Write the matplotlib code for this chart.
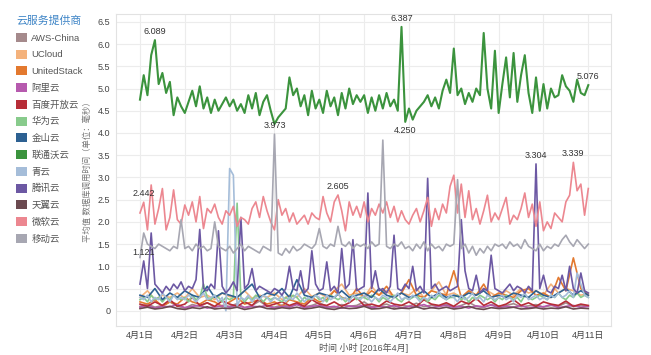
import numpy as np
import matplotlib
matplotlib.use("Agg")
import matplotlib.pyplot as plt
from matplotlib.patches import Patch

plt.rcParams['font.family'] = ['Liberation Sans', 'Noto Sans CJK SC', 'DejaVu Sans']

# providers, in legend order
providers = ["AWS-China", "UCloud", "UnitedStack", "阿里云", "百度开放云", "华为云", "金山云",
             "联通沃云", "青云", "腾讯云", "天翼云", "微软云", "移动云"]
colors = ["#a58a8c", "#f4b27c", "#e3792f", "#b65aae", "#b72d38", "#88cb8c", "#2d6192",
          "#3b933d", "#a5bdd9", "#6c58a3", "#6b4a50", "#ec8790", "#a7a7b2"]

day_labels = ["4月1日", "4月2日", "4月3日", "4月4日", "4月5日", "4月6日",
              "4月7日", "4月8日", "4月9日", "4月10日", "4月11日"]

# every series spans 4/1 00:00 .. 4/11 00:00 (240 h)
aws = [0.1, 0.15, 0.08, 0.12, 0.2, 0.1, 0.06, 0.14, 0.1, 0.18, 0.08, 0.12, 0.1, 0.16, 0.07, 0.12,
       0.22, 0.1, 0.08, 0.13, 0.1, 0.15, 0.09, 0.12, 0.18, 0.1, 0.07, 0.14, 0.1, 0.12, 0.2, 0.09,
       0.11, 0.15, 0.08, 0.12, 0.1, 0.17, 0.09, 0.13, 0.1, 0.15, 0.08, 0.12, 0.19, 0.1, 0.07, 0.14,
       0.1, 0.12, 0.16, 0.09, 0.11, 0.14, 0.08, 0.12, 0.1, 0.18, 0.09, 0.12, 0.1]
ucloud = [0.3, 0.45, 0.25, 0.35, 0.3, 0.4, 0.28, 0.5, 0.3, 0.35, 0.25, 0.4, 0.32, 0.3, 0.45, 0.28,
          0.35, 0.3, 0.4, 0.25, 0.35, 0.3, 0.5, 0.32, 0.4, 0.3, 0.45, 0.6, 0.35, 0.4, 0.3, 0.55,
          0.35, 0.45, 0.3, 0.4, 0.35, 0.5, 0.3, 0.45, 0.65, 0.35, 0.4, 0.3, 0.45, 0.35, 0.5, 0.4,
          0.3, 0.45, 0.35, 0.5, 0.4, 0.45, 0.35, 0.6, 0.4, 0.5, 0.45, 0.35, 0.4]
unitedstack = [0.2, 0.15, 0.25, 0.1, 0.2, 0.15, 0.3, 0.2, 0.15, 0.25, 0.2, 0.1, 0.2, 0.3, 0.15, 0.2,
               0.25, 0.15, 0.2, 0.1, 0.25, 0.2, 0.15, 0.3, 0.2, 0.25, 0.45, 0.3, 0.25, 0.5, 0.3, 0.45,
               0.35, 0.55, 0.3, 0.4, 0.7, 0.35, 0.3, 0.45, 0.4, 0.35, 0.9, 0.3, 0.45, 0.35, 0.6, 0.3,
               0.4, 0.35, 0.3, 0.45, 0.5, 0.35, 0.4, 0.3, 0.75, 0.45, 1.19, 0.5, 0.35]
aliyun = [0.08, 0.12, 0.06, 0.1, 0.09, 0.14, 0.07, 0.1, 0.12, 0.06, 0.09, 0.11, 0.08, 0.13, 0.07, 0.1,
          0.09, 0.12, 0.06, 0.1, 0.08, 0.14, 0.07, 0.1, 0.12, 0.08, 0.1, 0.06, 0.11, 0.09, 0.13, 0.07,
          0.1, 0.08, 0.12, 0.06, 0.1, 0.09, 0.14, 0.07, 0.1, 0.12, 0.08, 0.1, 0.06, 0.11, 0.09, 0.13,
          0.07, 0.1, 0.08, 0.12, 0.06, 0.1, 0.09, 0.14, 0.07, 0.1, 0.12, 0.08, 0.1]
baidu = [0.15, 0.1, 0.2, 0.12, 0.25, 0.1, 0.15, 0.3, 0.12, 0.18, 0.1, 0.22, 0.15, 0.1, 0.2, 0.12,
         0.28, 0.1, 0.15, 0.2, 0.12, 0.18, 0.1, 0.25, 0.15, 0.12, 0.2, 0.1, 0.18, 0.3, 0.12, 0.15,
         0.1, 0.22, 0.15, 0.12, 0.2, 0.1, 0.25, 0.15, 0.12, 0.18, 0.1, 0.22, 0.15, 0.28, 0.12, 0.2,
         0.1, 0.15, 0.25, 0.12, 0.18, 0.1, 0.2, 0.15, 0.12, 0.22, 0.1, 0.15, 0.12]
huawei = [0.25, 0.3, 0.2, 0.35, 0.25, 0.3, 0.2, 0.3, 0.25, 0.35, 0.3, 0.25,
          0.3, 0.2, 0.35, 0.25, 0.3, 0.6, 0.3, 0.25, 0.35, 0.3, 0.2, 0.3,
          0.25, 0.3, 2.42, 0.3, 0.2, 0.3, 0.25, 0.35, 0.3, 0.2, 0.3, 0.25,
          0.3, 0.25, 0.2, 0.3, 0.25, 0.35, 0.3, 0.2, 0.3, 0.25, 0.3, 0.35,
          0.25, 0.3, 0.2, 0.35, 0.3, 0.25, 0.3, 0.2, 0.3, 0.35, 0.25, 0.3,
          0.3, 0.25, 0.35, 0.3, 0.2, 0.3, 0.25, 0.3, 0.35, 0.25, 0.2, 0.3,
          0.25, 0.3, 0.35, 0.25, 0.3, 0.2, 0.3, 0.25, 0.35, 0.3, 0.25, 0.3,
          0.3, 0.35, 0.25, 0.3, 0.2, 0.3, 0.25, 0.35, 0.3, 0.25, 0.3, 0.2,
          0.3, 0.25, 0.35, 0.3, 0.25, 0.3, 0.2, 0.35, 0.3, 0.25, 0.3, 0.35,
          0.3, 0.25, 0.35, 0.3, 0.4, 0.3, 0.25, 0.35, 0.3, 0.4, 0.3, 0.35, 0.3]
kingsoft = [0.35, 0.3, 0.5, 0.25, 0.4, 0.3, 0.45, 0.35, 0.3, 0.55, 0.3, 0.4, 0.35, 0.3, 0.45, 0.6,
            0.3, 0.4, 0.35, 0.5, 0.3, 0.7, 0.35, 0.3, 0.4, 0.35, 0.3, 0.45, 0.3, 0.35, 0.4, 0.3,
            0.5, 0.35, 0.3, 0.4, 0.3, 0.35, 0.45, 0.3, 0.4, 0.3, 0.35, 0.3, 0.4, 0.35, 0.45, 0.3,
            0.35, 0.3, 0.4, 0.35, 0.3, 0.45, 0.35, 0.3, 0.4, 0.5, 0.35, 0.45, 0.35]
unicom = [4.75, 5.3, 4.85, 5.75, 6.089, 5.1, 5.35, 4.9, 5.15, 4.4, 4.8, 4.6,
          4.45, 4.7, 4.95, 4.6, 5.05, 4.55, 4.8, 4.45, 4.75, 4.5, 4.65, 4.8,
          4.6, 4.75, 4.5, 4.65, 4.45, 4.85, 4.55, 4.9, 4.4, 4.7, 4.85, 4.5,
          4.2, 4.35, 4.45, 4.55, 5.25, 4.85, 5.0, 4.6, 4.85, 4.4, 4.95, 4.55,
          4.75, 4.45, 4.95, 4.6, 4.8, 4.4, 4.9, 4.55, 5.0, 4.65, 4.85, 4.7,
          4.85, 4.45, 4.8, 4.5, 4.85, 4.55, 4.9, 4.6, 4.75, 4.5, 6.387, 4.25,
          4.55, 4.3, 4.5, 4.6, 4.7, 4.85, 4.6, 4.8, 4.55, 4.95, 5.2, 4.9,
          5.9, 4.85, 5.0, 4.65, 4.9, 4.7, 5.0, 4.85, 6.25, 5.0, 4.55, 5.85,
          4.45, 5.1, 5.7, 4.8, 5.8, 4.7, 5.3, 5.75, 4.9, 4.45, 5.25, 4.5,
          5.1, 4.55, 5.0, 4.8, 4.85, 5.3, 5.05, 4.95, 4.7, 5.2, 4.9, 4.85, 5.076]
qingcloud = [0.3, 0.25, 0.35, 0.2, 0.3, 0.25, 0.4, 0.3, 0.2, 0.35, 0.25, 0.3,
             0.25, 0.35, 0.3, 0.2, 0.3, 0.4, 0.25, 0.3, 0.35, 0.2, 0.3, 0.0,
             3.2, 3.05, 0.1, 0.3, 0.25, 0.35, 0.2, 0.3, 0.25, 0.35, 0.3, 0.2,
             0.3, 0.25, 0.35, 0.2, 0.3, 0.25, 0.4, 0.3, 0.2, 0.3, 0.25, 0.35,
             0.3, 0.2, 0.35, 0.25, 0.3, 0.4, 0.25, 0.3, 0.2, 0.35, 0.3, 0.25,
             0.35, 0.3, 0.2, 0.3, 0.25, 0.35, 0.3, 0.2, 0.3, 0.4, 0.25, 0.3,
             0.25, 0.35, 0.3, 0.2, 0.3, 0.25, 0.35, 0.3, 0.45, 0.3, 0.25, 0.35,
             0.3, 0.2, 0.35, 0.25, 0.3, 0.4, 0.25, 0.3, 0.2, 0.35, 0.3, 0.25,
             0.3, 0.35, 0.25, 0.3, 0.2, 0.35, 0.3, 0.4, 0.25, 0.3, 0.35, 0.25,
             0.3, 0.25, 0.35, 0.3, 0.4, 0.3, 0.35, 0.45, 0.3, 0.85, 0.6, 0.35, 0.3]
tencent = [0.6, 1.121, 0.5, 1.75, 0.6, 0.5, 0.4, 0.55, 0.45, 0.6, 0.5, 0.65,
           0.45, 0.55, 0.5, 0.7, 1.83, 0.5, 0.45, 0.6, 0.5, 1.8, 0.55, 0.4,
           0.5, 0.65, 0.45, 2.1, 0.5, 0.6, 0.95, 0.45, 0.55, 0.5, 0.45, 0.4,
           0.5, 0.45, 0.35, 0.5, 1.0, 0.5, 0.45, 0.9, 0.4, 0.5, 1.35, 0.6,
           0.45, 0.5, 1.1, 0.45, 0.55, 0.4, 1.4, 0.5, 0.6, 1.6, 0.45, 0.5,
           0.55, 2.65, 0.5, 0.9, 0.45, 0.5, 0.4, 0.55, 1.7, 0.5, 0.45, 0.6,
           0.5, 1.0, 0.45, 0.55, 0.4, 2.98, 0.5, 0.6, 0.45, 0.5, 0.55, 0.45,
           0.5, 0.55, 2.05, 0.9, 0.5, 0.45, 0.8, 0.4, 0.5, 0.45, 1.25, 0.5,
           0.45, 0.4, 0.5, 0.6, 0.45, 0.55, 0.5, 0.4, 0.55, 0.45, 3.304, 0.5,
           0.8, 0.45, 0.4, 0.55, 0.5, 0.8, 0.45, 1.0, 0.5, 0.4, 0.85, 0.45, 0.4]
tianyi = [0.05, 0.08, 0.04, 0.06, 0.1, 0.05, 0.03, 0.07, 0.05, 0.09, 0.04, 0.06, 0.05, 0.08, 0.03, 0.06,
          0.1, 0.05, 0.04, 0.07, 0.05, 0.08, 0.04, 0.06, 0.09, 0.05, 0.03, 0.07, 0.05, 0.06, 0.1, 0.04,
          0.05, 0.08, 0.04, 0.06, 0.05, 0.09, 0.04, 0.07, 0.05, 0.08, 0.04, 0.06, 0.1, 0.05, 0.03, 0.07,
          0.05, 0.06, 0.08, 0.04, 0.05, 0.07, 0.04, 0.06, 0.05, 0.09, 0.04, 0.06, 0.05]
azure = [2.2, 2.442, 1.82, 2.83, 1.95, 2.3, 2.75, 1.82, 2.1, 2.72, 2.05, 1.95,
         2.38, 2.15, 2.45, 2.0, 2.57, 1.85, 2.3, 2.2, 2.4, 2.1, 1.95, 2.25,
         2.15, 2.35, 1.9, 2.1, 2.05, 1.95, 2.3, 2.45, 2.1, 2.57, 2.25, 2.0,
         1.82, 2.5, 2.15, 2.3, 2.0, 2.2, 1.95, 2.05, 2.15, 1.95, 2.2, 2.1,
         2.05, 2.57, 2.2, 2.0, 2.45, 2.605, 2.25, 1.8, 2.45, 2.15, 2.35, 2.1,
         2.45, 2.0, 2.3, 2.15, 2.4, 2.2, 2.45, 2.1, 2.35, 2.0, 2.25, 2.05,
         1.95, 2.15, 2.3, 2.0, 2.25, 2.55, 1.9, 2.3, 2.05, 2.4, 2.2, 2.8,
         3.05, 2.2, 2.85, 2.1, 2.7, 2.05, 2.3, 1.95, 2.25, 2.6, 2.0, 2.2,
         2.05, 2.3, 2.55, 1.95, 2.15, 2.05, 2.3, 2.65, 2.1, 2.4, 1.9, 2.45,
         1.8, 2.0, 1.85, 2.2, 2.1, 2.0, 2.45, 2.6, 3.339, 2.7, 2.85, 2.15, 2.75]
mobile = [1.2, 1.75, 1.5, 1.45, 1.4, 1.5, 1.45, 1.4, 1.35, 1.45, 1.4, 2.05,
          1.4, 1.45, 1.35, 1.5, 1.4, 1.45, 1.35, 1.4, 2.0, 1.45, 1.4, 1.35,
          1.45, 1.3, 1.4, 1.5, 1.35, 1.45, 1.4, 1.35, 1.3, 1.45, 1.4, 1.35,
          3.973, 1.3, 1.25, 1.4, 1.3, 1.45, 1.35, 1.4, 1.5, 1.45, 1.4, 1.5,
          1.85, 1.45, 1.4, 1.5, 1.45, 1.9, 1.5, 1.45, 1.55, 1.4, 1.5, 1.45,
          1.5, 1.4, 1.55, 1.45, 1.5, 3.84, 1.45, 1.4, 1.5, 1.45, 1.55, 1.4,
          1.45, 1.35, 1.5, 1.4, 1.55, 1.35, 1.5, 1.4, 1.45, 1.35, 1.5, 1.45,
          1.5, 2.95, 1.4, 1.5, 1.3, 1.45, 1.25, 1.4, 1.3, 1.45, 1.35, 1.5,
          1.45, 1.5, 1.4, 1.55, 1.45, 1.5, 1.4, 1.6, 1.45, 1.4, 1.35, 1.5,
          1.35, 1.45, 1.4, 1.5, 1.45, 1.6, 1.7, 1.55, 1.45, 1.6, 1.5, 1.4, 1.5]

series = [aws, ucloud, unitedstack, aliyun, baidu, huawei, kingsoft,
          unicom, qingcloud, tencent, tianyi, azure, mobile]

# (series index, point index, text above/below)
labels = [(7, 4, 'above'), (7, 70, 'above'), (7, 71, 'below'), (7, 120, 'above'),
          (12, 36, 'above'), (9, 1, 'above'), (9, 106, 'above'),
          (11, 1, 'above'), (11, 53, 'above'), (11, 116, 'above')]

fig = plt.figure(figsize=(6.51, 3.55), dpi=100)
ax = fig.add_axes([0.178, 0.082, 0.761, 0.879])

for name, vals, c in zip(providers, series, colors):
    hours = np.linspace(0, 240, len(vals))
    lw = 1.5 if name == "联通沃云" else 1.2
    ax.plot(hours, vals, color=c, lw=lw)

for si, pi, pos in labels:
    vals = series[si]
    h = np.linspace(0, 240, len(vals))[pi]
    dy = 3 if pos == 'above' else -3
    ax.annotate("%.3f" % vals[pi], (h, vals[pi]), textcoords="offset points",
                xytext=(0, dy), ha='center', va='bottom' if pos == 'above' else 'top',
                fontsize=6.5, color='#333333')

ax.set_xlim(-12.9, 252.3)
ax.set_ylim(-0.34, 6.68)
ax.set_xticks(np.arange(0, 241, 24))
ax.set_xticklabels(day_labels)
ax.set_yticks(np.arange(0, 6.6, 0.5))
ax.set_yticklabels(["0"] + ["%.1f" % v for v in np.arange(0.5, 6.6, 0.5)])
ax.tick_params(length=0, labelsize=6.5, labelcolor='#444444', pad=4)
ax.grid(True, color='#ececec', lw=0.8)
ax.set_axisbelow(True)
for sp in ax.spines.values():
    sp.set_color('#e2e2e2')
    sp.set_linewidth(0.8)

ax.set_xlabel("时间 小时 [2016年4月]", fontsize=6.5, color='#555555', labelpad=2)
ax.set_ylabel("平均值 数据库调用时间（单位：毫秒）", fontsize=6, color='#777777', labelpad=4)

handles = [Patch(facecolor=c, edgecolor='none', label=n) for n, c in zip(providers, colors)]
leg = fig.legend(handles=handles, loc='upper left', bbox_to_anchor=(0.012, 0.98),
                 frameon=False, title="云服务提供商", fontsize=6.8, title_fontsize=7.8,
                 handlelength=1.1, handleheight=1.1, labelspacing=0.74, handletextpad=0.5,
                 alignment='left')
leg.get_title().set_color('#3d84c6')
for t in leg.get_texts():
    t.set_color('#555555')

fig.savefig("out.png", dpi=100)
